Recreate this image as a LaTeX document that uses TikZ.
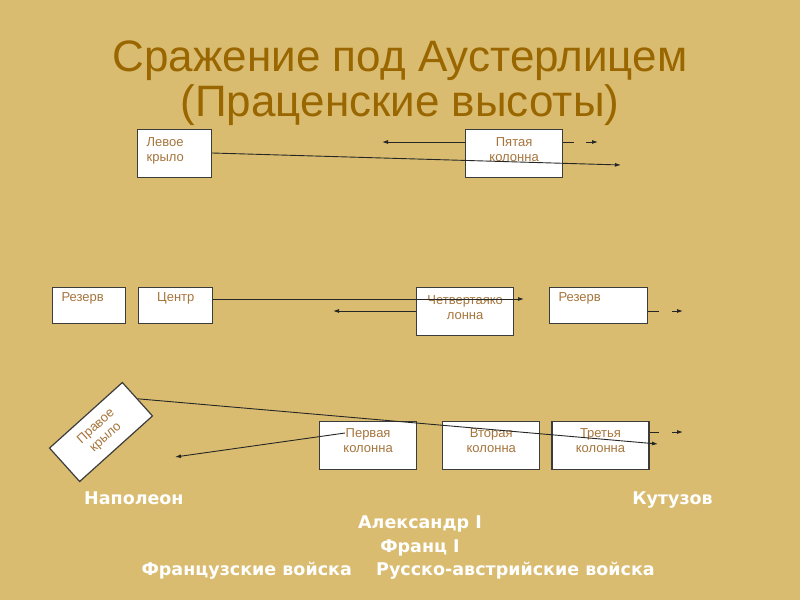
\documentclass[tikz,border=0pt]{standalone}
\usepackage{fontspec}
\setmainfont{Liberation Sans}
\newfontfamily\namefont{DejaVu Sans}
\usetikzlibrary{shapes,arrows,arrows.meta,positioning}
\definecolor{sand}{RGB}{217,188,112}
\definecolor{titlebrown}{RGB}{153,102,0}
\definecolor{unitbrown}{RGB}{166,117,60}
\definecolor{edge}{RGB}{60,60,60}
\tikzstyle{unit}=[rectangle,draw=edge,line width=1.2pt,fill=white,inner xsep=9pt,inner ysep=0pt,font=\fontsize{13}{14.5}\selectfont,text=unitbrown]
\tikzstyle{col}=[unit,text width=79pt,align=center,text height=17pt,text depth=31pt]
\tikzstyle{wing}=[unit,text width=56pt,align=left,text height=17pt,text depth=31pt]
\tikzstyle{flat}=[unit,text height=14pt,text depth=22pt]
\tikzstyle{arr}=[-{Latex[length=6pt,width=4pt]},line width=0.9pt,draw=black!85]
\tikzstyle{stub}=[line width=0.9pt,draw=black!85]
\tikzstyle{who}=[text=white,font=\namefont\bfseries\fontsize{17.5}{20}\selectfont,inner sep=0pt]

\begin{document}
\begin{tikzpicture}[x=1pt,y=-1pt]
\useasboundingbox (0,0) rectangle (800,600);
\fill[sand] (0,0) rectangle (800,600);
\node[text=titlebrown,font=\fontsize{44}{45}\selectfont,align=center,anchor=base,inner sep=0pt] (title) at (400,116) {Сражение под Аустерлицем\\(Праценские высоты)};
% top row
\node[wing,anchor=north west] (leftwing) at (137,129) {Левое\\крыло};
\node[col,anchor=north west] (fifth) at (465,129) {Пятая\\колонна};
% middle row
\node[flat,text width=55pt,align=left,anchor=north west] (reserveL) at (52,287) {Резерв};
\node[flat,text width=56pt,align=center,right=12pt of reserveL] (centre) {Центр};
\node[col,anchor=north west] (fourth) at (416,287) {Четвертаяко\\лонна};
\node[flat,text width=80pt,align=left,anchor=north west] (reserveR) at (549,287) {Резерв};
% bottom row
\node[unit,rotate=42,minimum width=98pt,minimum height=45pt,text width=80pt,align=center] (rightwing) at (101,432) {Правое\\крыло};
\node[col,text height=16pt,text depth=32pt,anchor=north west] (first) at (319,421) {Первая\\колонна};
\node[col,text height=16pt,text depth=32pt,right=25pt of first] (second) {Вторая\\колонна};
\node[col,text height=16pt,text depth=32pt,right=11pt of second] (third) {Третья\\колонна};
% free ends
\coordinate (fifthback) at (382,142);
\coordinate (fifthstub) at (574,142);
\coordinate (fifthgo) at (586,142);
\coordinate (fifthtip) at (598,142);
\coordinate (leftwingtip) at (621,165);
\coordinate (centretip) at (524,299);
\coordinate (fourthback) at (333,311);
\coordinate (reservestub) at (659,311);
\coordinate (reservego) at (672,311);
\coordinate (reservetip) at (683,311);
\coordinate (rightwingtip) at (658,444);
\coordinate (firstback) at (175,457);
\coordinate (thirdstub) at (659,432);
\coordinate (thirdgo) at (672,432);
\coordinate (thirdtip) at (683,432);
% movements
\draw[arr] ([shift={(0,13)}]fifth.north west) -- (fifthback);
\draw[stub] ([shift={(0,13)}]fifth.north east) -- (fifthstub);
\draw[arr] (fifthgo) -- (fifthtip);
\draw[arr] ([shift={(0,24)}]leftwing.north east) -- (leftwingtip);
\draw[arr] ([shift={(0,12)}]centre.north east) -- (centretip);
\draw[arr] ([shift={(0,24)}]fourth.north west) -- (fourthback);
\draw[stub] ([shift={(0,24)}]reserveR.north east) -- (reservestub);
\draw[arr] (reservego) -- (reservetip);
\draw[arr] (rightwing.east) -- (rightwingtip);
\draw[arr] ([shift={(26,12)}]first.north west) -- (firstback);
\draw[stub] ([shift={(0,11)}]third.north east) -- (thirdstub);
\draw[arr] (thirdgo) -- (thirdtip);
% commanders
\node[who,anchor=base west] (napoleon) at (84,504) {Наполеон};
\node[who,anchor=base east] (kutuzov) at (713,504) {Кутузов};
\node[who,anchor=base] (alexander) at (420,528) {Александр I};
\node[who,anchor=base] (franz) at (420,552) {Франц I};
\node[who,anchor=base east] (french) at (352,575) {Французские войска};
\node[who,anchor=base west] (allied) at (376,575) {Русско-австрийские войска};
\end{tikzpicture}
\end{document}
